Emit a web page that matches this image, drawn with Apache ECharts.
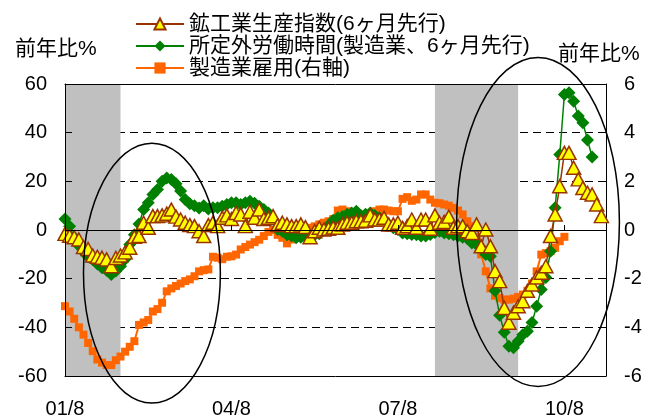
<!DOCTYPE html>
<html>
<head>
<meta charset="utf-8">
<script src="https://cdn.jsdelivr.net/npm/echarts@6/dist/echarts.min.js"></script>
<style>
  html, body { margin: 0; padding: 0; background: #fff; }
  #chart { width: 657px; height: 420px; }
</style>
</head>
<body>
<div id="chart"></div>
<script>
// Monthly axis: 2001/8 .. 2011/5, labelled "yy/m"
const startYear = 2001;
const startMonth = 8;
const monthCount = 118;
const categories = [];
for (let i = 0; i < monthCount; i++) {
  const m = startMonth - 1 + i;
  const y = startYear + Math.floor(m / 12);
  categories.push(String(y % 100).padStart(2, '0') + '/' + (m % 12 + 1));
}
const tickLabels = ['01/8', '04/8', '07/8', '10/8'];

// Shaded recession periods (start, end)
const recessions = [['01/8', '02/8'], ['08/4', '09/10']];

const seriesNames = ['鉱工業生産指数(6ヶ月先行)', '所定外労働時間(製造業、6ヶ月先行)', '製造業雇用(右軸)'];

// Industrial production, YoY %, shifted 6 months ahead (left axis)
const production = [
  -1.6, -2.4, -3.0, -3.9, -7.0, -7.8, -10.5, -11.0, -11.4, -12.1,
  -14.9, -11.5, -10.5, -9.2, -7.3, -2.8, -2.5, 3.0, 0.9, 5.7,
  5.7, 6.0, 6.7, 8.4, 5.5, 4.3, 3.0, 2.0, 1.6, -0.5,
  -2.5, 2.0, 3.0, 1.6, 5.0, 6.0, 4.5, 7.0, 6.4, 1.6,
  7.5, 5.0, 8.4, 4.5, 5.0, 5.7, 2.0, 3.0, 2.3, 1.6,
  1.6, 2.3, 1.2, -3.0, -0.5, 0.9, 0.2, 0.5, 1.0, 0.9,
  2.3, 3.0, 3.0, 3.6, 3.6, 3.8, 6.0, 4.3, 4.3, 5.0,
  2.3, 2.3, 3.0, 0.9, 1.6, 4.3, 0.9, 4.3, 4.3, 0.5,
  6.0, 3.0, 3.3, 5.5, 0.9, 1.6, 1.6, -0.5, -1.2, 2.3,
  -6.7, 0.2, -6.7, -16.9, -21.0, -32.0, -38.1, -34.0, -31.3, -29.3,
  -25.0, -22.4, -19.5, -17.6, -14.9, -2.5, 6.4, 18.0, 31.7, 31.7,
  25.6, 20.8, 17.3, 15.3, 14.6, 10.5, 5.7
];

// Manufacturing overtime hours, YoY %, shifted 6 months ahead (left axis)
const hours = [
  4.5, 1.5, -3.0, -6.5, -9.0, -11.0, -12.1, -14.0, -15.5, -16.5,
  -18.3, -16.9, -14.9, -12.0, -6.0, -2.0, 2.5, 8.4, 11.2, 14.6,
  16.6, 20.0, 21.4, 20.8, 19.0, 16.0, 12.5, 10.8, 10.0, 9.0,
  10.0, 8.6, 9.1, 9.1, 9.8, 10.5, 11.2, 11.2, 10.5, 11.2,
  11.8, 11.0, 9.8, 8.4, 7.0, 4.3, 0.2, -0.5, -2.0, -2.5,
  -3.2, -3.0, -2.8, -2.5, -2.0, -1.5, 0.0, 2.0, 4.0, 5.0,
  5.5, 6.5, 7.0, 7.7, 6.0, 6.5, 7.0, 6.0, 5.0, 4.0,
  2.0, 0.9, 0.2, -1.2, -1.5, -1.8, -2.0, -2.5, -2.5, -1.8,
  -1.0, -0.5, -1.2, -1.5, -2.0, -2.5, -3.0, -3.5, -5.3, -6.0,
  -7.3, -10.1, -10.8, -25.0, -35.0, -42.0, -47.8, -48.4, -45.7, -43.0,
  -41.6, -38.0, -31.3, -24.5, -19.5, -8.7, 9.1, 31.0, 55.7, 56.4,
  52.9, 46.8, 44.1, 37.0, 30.0
];

// Manufacturing employment, YoY % (right axis)
const employment = [
  -3.13, -3.35, -3.65, -4.00, -4.30, -4.64, -4.98, -5.32, -5.45, -5.55,
  -5.55, -5.35, -5.20, -5.00, -4.80, -4.57, -3.90, -3.80, -3.70, -3.35,
  -3.25, -2.99, -2.52, -2.40, -2.30, -2.20, -2.10, -2.03, -1.90, -1.70,
  -1.65, -1.62, -1.10, -1.14, -1.20, -1.10, -1.08, -1.01, -0.80, -0.70,
  -0.60, -0.50, -0.40, -0.25, -0.08, 0.00, -0.20, -0.32, -0.55, -0.39,
  -0.18, -0.10, -0.05, 0.09, 0.15, 0.23, 0.30, 0.36, 0.45, 0.80,
  0.84, 0.77, 0.55, 0.50, 0.50, 0.45, 0.50, 0.77, 0.84, 0.84,
  0.80, 0.77, 0.77, 1.28, 1.35, 1.20, 1.25, 1.46, 1.46, 1.25,
  1.12, 1.10, 1.05, 1.00, 0.91, 0.80, 0.64, 0.36, 0.16, -0.30,
  -1.00, -1.70, -2.40, -2.70, -2.80, -2.86, -2.86, -2.82, -2.75, -2.65,
  -2.50, -2.20, -1.70, -1.01, -0.95, -0.87, -0.73, -0.46, -0.28
];

// Circled periods: centre (month index, left-axis value) and radii (months, left-axis units)
const highlights = [
  { month: 18.8, value: -17.7, rxMonths: 14.8, ryValue: 53.4 },
  { month: 102.3, value: 3.3, rxMonths: 17.6, ryValue: 67.6 }
];

const FONT = "'Liberation Sans', 'Noto Sans CJK JP', sans-serif";
const showTick = (idx, val) => tickLabels.includes(val);

const chart = echarts.init(document.getElementById('chart'), null, { renderer: 'canvas' });

chart.setOption({
  animation: false,
  backgroundColor: '#fff',
  textStyle: { fontFamily: FONT, color: '#000' },
  grid: { left: 65, right: 51, top: 84, bottom: 44 },
  legend: {
    orient: 'vertical',
    left: 130,
    top: 8,
    itemWidth: 48,
    itemHeight: 14,
    itemGap: 0,
    data: seriesNames,
    textStyle: { fontFamily: FONT, fontSize: 21, lineHeight: 22, color: '#000' }
  },
  xAxis: [
    {
      type: 'category', data: categories, boundaryGap: false, position: 'bottom', z: 5,
      axisLine: { onZero: false, lineStyle: { color: '#000', width: 1 } },
      axisTick: { show: false },
      axisLabel: { interval: showTick, margin: 23, fontSize: 20, fontFamily: FONT, color: '#000' },
      splitLine: { show: false }
    },
    {
      type: 'category', data: categories, boundaryGap: false, position: 'bottom', z: 5,
      axisLine: { onZero: true, onZeroAxisIndex: 0, lineStyle: { color: '#000', width: 1 } },
      axisTick: { show: true, inside: true, length: 5, interval: showTick, lineStyle: { color: '#000' } },
      axisLabel: { show: false },
      splitLine: { show: false }
    },
    {
      type: 'category', data: categories, boundaryGap: false, position: 'top', z: 5,
      axisLine: { onZero: false, lineStyle: { color: '#000', width: 1 } },
      axisTick: { show: false },
      axisLabel: { show: false },
      splitLine: { show: false }
    }
  ],
  yAxis: [
    {
      type: 'value', min: -60, max: 60, interval: 20, position: 'left', z: 5,
      axisLine: { show: true, lineStyle: { color: '#000', width: 1 } },
      axisTick: { show: true, inside: true, length: 7, lineStyle: { color: '#000' } },
      axisLabel: { margin: 18, fontSize: 20, fontFamily: FONT, color: '#000' },
      splitLine: { show: false }
    },
    {
      type: 'value', min: -6, max: 6, interval: 2, position: 'right', z: 0,
      axisLine: { show: true, lineStyle: { color: '#000', width: 1 } },
      axisTick: { show: true, inside: true, length: 7, lineStyle: { color: '#000' } },
      axisLabel: { margin: 18, fontSize: 20, fontFamily: FONT, color: '#000' },
      splitLine: { show: true, lineStyle: { type: [8, 5], color: '#000', width: 1 } }
    }
  ],
  series: [
    {
      name: 'recession', type: 'line', data: [], xAxisIndex: 0, yAxisIndex: 0, z: 1, silent: true,
      markArea: {
        silent: true,
        itemStyle: { color: '#C0C0C0' },
        data: recessions.map(r => [{ xAxis: r[0] }, { xAxis: r[1] }])
      }
    },
    {
      name: seriesNames[2], type: 'line', data: employment, yAxisIndex: 1, z: 2,
      symbol: 'rect', symbolSize: 8, showAllSymbol: true,
      lineStyle: { color: '#FF6600', width: 2 },
      itemStyle: { color: '#FF6600' }
    },
    {
      name: seriesNames[1], type: 'line', data: hours, yAxisIndex: 0, z: 3,
      symbol: 'diamond', symbolSize: 13, showAllSymbol: true,
      lineStyle: { color: '#008000', width: 1.5 },
      itemStyle: { color: '#008000' }
    },
    {
      name: seriesNames[0], type: 'line', data: production, yAxisIndex: 0, z: 4,
      symbol: 'triangle', symbolSize: [14, 13], showAllSymbol: true,
      lineStyle: { color: '#993300', width: 1.5 },
      itemStyle: { color: '#FFFF00', borderColor: '#993300', borderWidth: 1.5 }
    }
  ]
});

// Axis titles and the two circled periods, placed from the axes' own scales
const x0 = chart.convertToPixel({ xAxisIndex: 0 }, categories[0]);
const xN = chart.convertToPixel({ xAxisIndex: 0 }, categories[monthCount - 1]);
const pxPerMonth = (xN - x0) / (monthCount - 1);
const yZero = chart.convertToPixel({ yAxisIndex: 0 }, 0);
const yTop = chart.convertToPixel({ yAxisIndex: 0 }, 60);
const pxPerUnit = (yZero - yTop) / 60;

const graphics = highlights.map(h => ({
  type: 'ellipse',
  z: 100,
  silent: true,
  shape: {
    cx: x0 + h.month * pxPerMonth,
    cy: yZero - h.value * pxPerUnit,
    rx: h.rxMonths * pxPerMonth,
    ry: h.ryValue * pxPerUnit
  },
  style: { fill: 'none', stroke: '#000', lineWidth: 1.5 }
}));

graphics.push(
  { type: 'text', left: 15, top: 39, style: { text: '前年比%', font: "21px " + FONT, fill: '#000' } },
  { type: 'text', left: 558, top: 44, style: { text: '前年比%', font: "21px " + FONT, fill: '#000' } }
);

chart.setOption({ graphic: graphics });
</script>
</body>
</html>
